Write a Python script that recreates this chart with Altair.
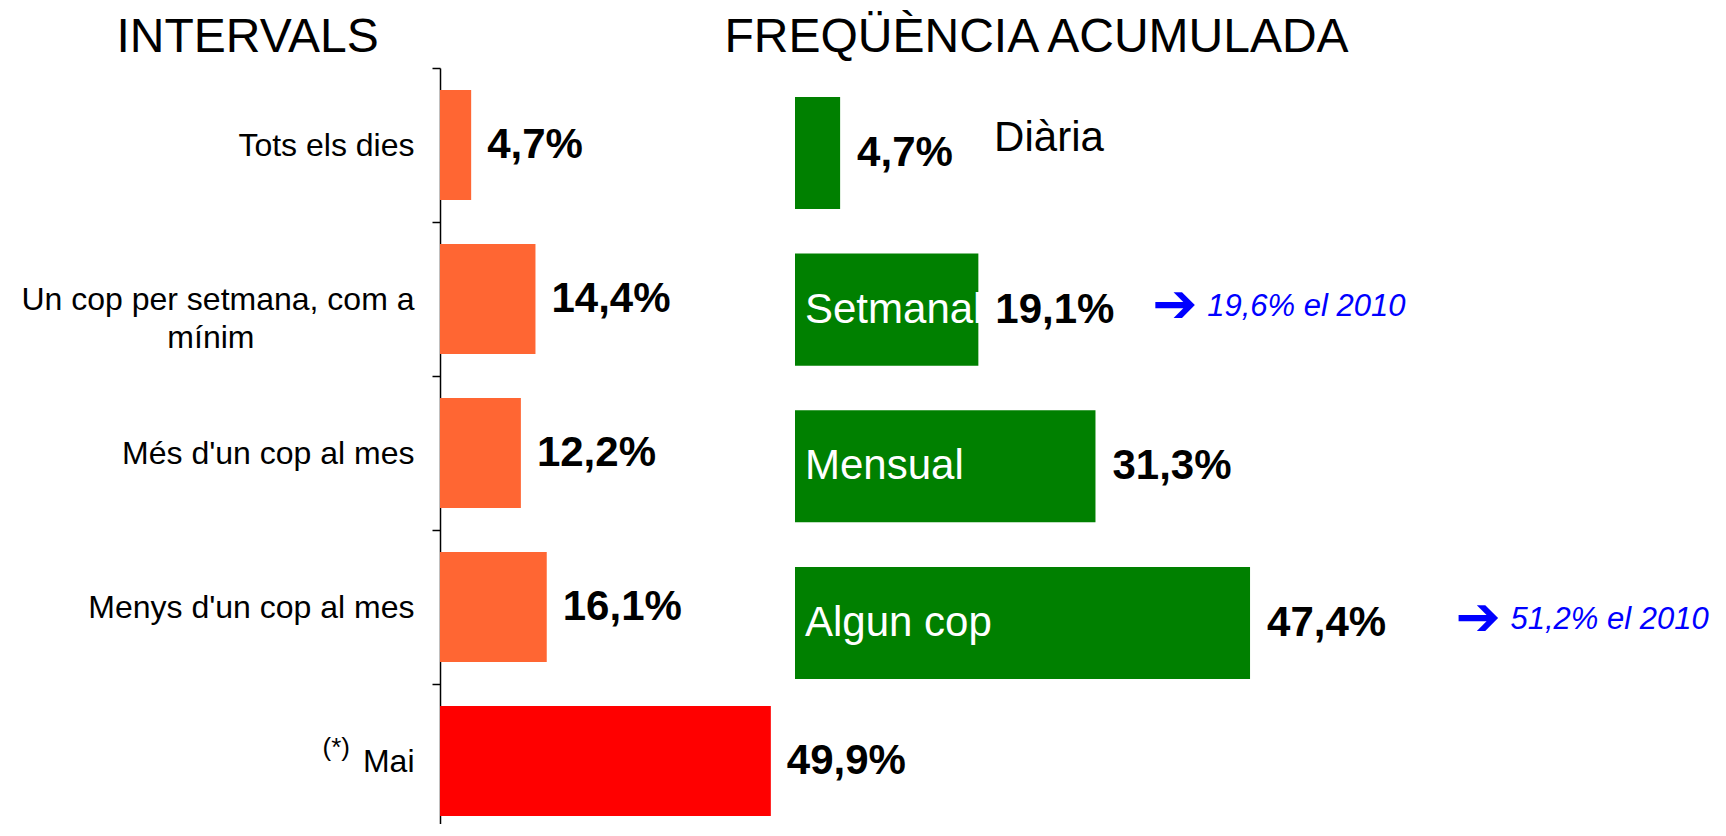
import altair as alt
import pandas as pd

# ---------------- data ----------------
intervals = ["Tots els dies", "Un cop per setmana, com a mínim", "Més d'un cop al mes",
             "Menys d'un cop al mes", "Mai"]
interval_pct = [4.7, 14.4, 12.2, 16.1, 49.9]
footnote_row = "Mai"
footnote_mark = "(*)"

cumulative_names = ["Diària", "Setmanal", "Mensual", "Algun cop"]
cumulative_pct = [4.7, 19.1, 31.3, 47.4]

previous_rows = ["Un cop per setmana, com a mínim", "Menys d'un cop al mes"]
previous_pct = [19.6, 51.2]
previous_year = "2010"

title_left = "INTERVALS"
title_right = "FREQÜÈNCIA ACUMULADA"


def pct(v):
    return f"{v:.1f}".replace(".", ",") + "%"


left_df = pd.DataFrame({
    "cat": intervals,
    "pct": interval_pct,
    "label": [pct(v) for v in interval_pct],
    "group": ["never" if c == footnote_row else "interval" for c in intervals],
    "foot": [footnote_mark if c == footnote_row else "" for c in intervals],
})
right_df = pd.DataFrame({
    "cat": intervals[:4],
    "cum": cumulative_pct,
    "label": [pct(v) for v in cumulative_pct],
    "name": cumulative_names,
    "outside": [i == 0 for i in range(4)],
})
prev_df = pd.DataFrame({
    "cat": previous_rows,
    "prev": previous_pct,
    "note": [pct(v) + " el " + previous_year for v in previous_pct],
    "arrow": ["\u2794"] * len(previous_rows),
})

# ---------------- layout / style ----------------
FONT = "Liberation Sans"
W, H = 1270, 770
LEFT_PX = 6.63      # px per percentage point, left panel
RIGHT_PX = 9.6      # px per percentage point, right panel
RIGHT_ZERO = 355    # where the right panel's bars start, px from plot left

left_scale = alt.Scale(domain=[0, W / LEFT_PX], nice=False, zero=False)
right_scale = alt.Scale(domain=[-RIGHT_ZERO / RIGHT_PX, (W - RIGHT_ZERO) / RIGHT_PX],
                        nice=False, zero=False)

nb = "\u00a0"
label_expr = (
    "datum.value == 'Un cop per setmana, com a mínim' ? "
    "['Un cop per setmana, com a', 'mínim" + nb * 18 + "\u200b'] : datum.label"
)

left_y = alt.Y(
    "cat:N",
    sort=intervals,
    scale=alt.Scale(domain=intervals, paddingInner=0, paddingOuter=0),
    axis=alt.Axis(
        title=None, labelFont=FONT, labelFontSize=32, labelColor="black",
        labelPadding=18, tickSize=8, tickWidth=1.5, tickColor="black",
        domainColor="black", domainWidth=1.5, tickBand="extent",
        labelLimit=800, labelLineHeight=38, labelExpr=label_expr, grid=False,
    ),
)
left_x_axis = alt.Axis(
    orient="top", title=title_left, titleFont=FONT, titleFontSize=48,
    titleFontWeight="normal", titleColor="black", titleX=-324, titleY=-17,
    titleAlign="left", titleBaseline="alphabetic", labels=False, ticks=False,
    domain=False, grid=False,
)

right_y = alt.Y(
    "cat:N",
    sort=intervals[:4],
    scale=alt.Scale(domain=intervals[:4], paddingInner=0.285, paddingOuter=0.6, align=0.154),
    axis=None,
)
right_x_axis = alt.Axis(
    orient="bottom", title=title_right, titleFont=FONT, titleFontSize=48,
    titleFontWeight="normal", titleColor="black", titleX=284, titleY=-(H + 17),
    titleAlign="left", titleBaseline="alphabetic", labels=False, ticks=False,
    domain=False, grid=False,
)

# ---------------- left panel ----------------
lbase = alt.Chart(left_df)
left_bars = lbase.mark_bar(height={"band": 0.714}).encode(
    x=alt.X("pct:Q", scale=left_scale, axis=left_x_axis),
    x2=alt.datum(0),
    y=left_y,
    color=alt.Color("group:N", scale=alt.Scale(domain=["interval", "never"],
                                               range=["#FF6633", "#FF0000"]), legend=None),
)
left_labels = lbase.mark_text(
    align="left", baseline="middle", dx=16, font=FONT, fontSize=42,
    fontWeight="bold", color="black",
).encode(
    x=alt.X("pct:Q", scale=left_scale, axis=left_x_axis),
    y=left_y,
    text="label:N",
)
foot_marks = lbase.transform_filter("datum.foot != ''").mark_text(
    align="right", baseline="alphabetic", dx=-90, dy=-5, font=FONT, fontSize=26,
    color="black",
).encode(
    x=alt.datum(0, type="quantitative", scale=left_scale, axis=left_x_axis),
    y=left_y,
    text="foot:N",
)
left = alt.layer(left_bars, left_labels, foot_marks)

# ---------------- right panel ----------------
rbase = alt.Chart(right_df)
green_bars = rbase.mark_bar(color="#008000").encode(
    x=alt.X("cum:Q", scale=right_scale, axis=right_x_axis),
    x2=alt.datum(0),
    y=right_y,
)
green_labels = rbase.mark_text(
    align="left", baseline="middle", dx=17, font=FONT, fontSize=42,
    fontWeight="bold", color="black",
).encode(
    x=alt.X("cum:Q", scale=right_scale, axis=right_x_axis),
    y=right_y,
    text="label:N",
)
inside_names = rbase.transform_filter("!datum.outside").mark_text(
    align="left", baseline="middle", dx=10, font=FONT, fontSize=42, color="white",
).encode(
    x=alt.datum(0, type="quantitative", scale=right_scale, axis=right_x_axis),
    y=right_y,
    text="name:N",
)
outside_names = rbase.transform_filter("datum.outside").mark_text(
    align="left", baseline="middle", dx=154, dy=-15, font=FONT, fontSize=42, color="black",
).encode(
    x=alt.X("cum:Q", scale=right_scale, axis=right_x_axis),
    y=right_y,
    text="name:N",
)
pbase = alt.Chart(prev_df)
arrows = pbase.mark_text(
    align="left", baseline="middle", dx=169, dy=-4, font="DejaVu Sans", fontSize=54,
    color="#0000FF",
).encode(
    x=alt.X("prev:Q", scale=right_scale, axis=right_x_axis),
    y=right_y,
    text="arrow:N",
)
notes = pbase.mark_text(
    align="left", baseline="middle", dx=224, dy=-3, font=FONT, fontSize=31,
    fontStyle="italic", color="#0000FF",
).encode(
    x=alt.X("prev:Q", scale=right_scale, axis=right_x_axis),
    y=right_y,
    text="note:N",
)
right = alt.layer(green_bars, green_labels, inside_names, outside_names, arrows, notes)

chart = (
    alt.layer(left, right)
    .resolve_scale(x="independent", y="independent")
    .properties(
        width=W, height=H,
        autosize=alt.AutoSizeParams(type="none"),
        padding={"left": 432, "top": 60, "right": 8, "bottom": -14},
    )
    .configure_view(stroke=None)
)

chart.save("out.html", embed_options={"renderer": "svg", "actions": False})
